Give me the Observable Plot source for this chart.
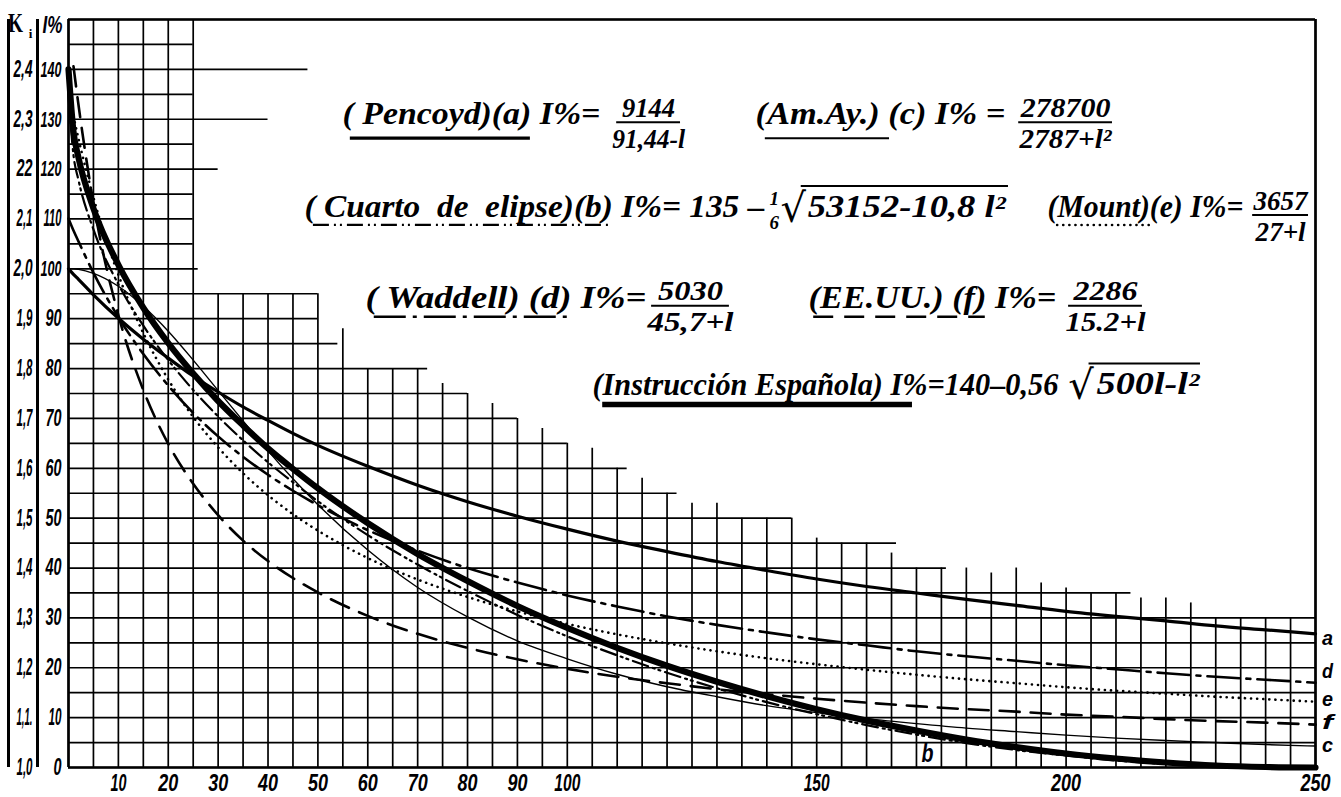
<!DOCTYPE html>
<html>
<head>
<meta charset="utf-8">
<script src="https://cdn.jsdelivr.net/npm/d3@7"></script>
<script src="https://cdn.jsdelivr.net/npm/@observablehq/plot@0.6"></script>
<style>
html, body { margin: 0; padding: 0; background: #fff; }
#chart { width: 1341px; height: 797px; overflow: hidden; }
</style>
</head>
<body>
<div id="chart"></div>
<script>
// ---------- data ----------
// span l (m)
const spans = [0,1,2,5,10,15,20,25,30,35,40,45,50,60,70,80,90,100,110,120,130,140,150,160,170,180,190,200,210,220,230,240,250];
// I % for each curve
const pencoyd     = [100.0,98.9,97.9,94.8,90.1,85.9,82.1,78.5,75.3,72.3,69.6,67.0,64.6,60.4,56.6,53.3,50.4,47.8,45.4,43.3,41.3,39.5,37.8,36.3,35.0,33.7,32.5,31.3,30.3,29.4,28.4,27.6,26.8];
const cuartoElipse= [135,122.8,117.8,107.9,96.9,88.6,81.7,75.7,70.4,65.6,61.2,57.2,53.4,46.6,40.7,35.4,30.6,26.3,22.5,19.0,15.9,13.1,10.7,8.5,6.6,4.9,3.5,2.4,1.4,0.7,0.3,0.0,null];
const amAy        = [100,100,99.9,99.1,96.5,92.5,87.5,81.7,75.6,69.5,63.5,57.9,52.7,43.6,36.1,30.2,25.4,21.8,18.7,16.2,14.2,12.4,11.0,9.8,8.8,7.9,7.2,6.5,5.9,5.4,5.0,4.6,4.3];
const waddell     = [110.1,107.7,105.5,99.2,90.3,82.9,76.6,71.1,66.4,62.3,58.7,55.5,52.6,47.6,43.5,40.0,37.1,34.5,32.3,30.3,28.6,27.1,25.7,24.5,23.3,22.3,21.4,20.5,19.7,18.9,18.2,17.6,17.0];
const mount       = [135.4,130.6,126.1,114.3,98.8,87.1,77.8,70.3,64.2,59.0,54.6,50.8,47.5,42.0,37.7,34.2,31.3,28.8,26.7,24.9,23.3,21.9,20.7,19.6,18.6,17.7,16.9,16.1,15.4,14.8,14.2,13.7,13.2];
const eeuu        = [null,140.6,132.9,113.2,90.7,75.7,64.9,56.9,50.6,45.5,41.4,38.0,35.1,30.4,26.8,24.0,21.7,19.8,18.2,16.9,15.7,14.7,13.8,13.0,12.3,11.7,11.2,10.6,10.2,9.7,9.3,9.0,8.6];
const instruccion = [140,127.5,122.3,112.1,100.8,92.2,85.1,79.0,73.5,68.6,64.0,59.9,56.0,49.0,42.8,37.4,32.4,28.0,24.0,20.4,17.2,14.3,11.7,9.4,7.4,5.6,4.1,2.8,1.8,1.0,0.4,0.1,0];

const curveKeys   = ["a","b","c","d","e","f","s"];
const curveValues = [pencoyd, cuartoElipse, amAy, waddell, mount, eeuu, instruccion];
// letters written at the right edge, and the I% level where each one stands
const endLabels   = ["a","d","e","f","c"];
const endLabelAt  = [26, 19.2, 13.6, 9.0, 4.4];

// tick labels
const xTicks  = [10,20,30,40,50,60,70,80,90,100,150,200,250];
const iTicks  = [0,10,20,30,40,50,60,70,80,90,100,110,120,130,140];
const kLabels = ["1,0","1,1.","1,2","1,3","1,4","1,5","1,6","1,7","1,8","1,9","2,0","2,1","22","2,3","2,4"];

// stepped squared-paper grid: vertical line at x reaches up to top; horizontal line at y reaches to right
const gridX     = [0,5,10,15,20,25,30,35,40,45,50,55,60,65,70,75,80,85,90,95,100,105,110,115,120,125,130,135,140,145,150,155,160,165,170,175,180,185,190,195,200,205,210,215,220,225,230,235,240,245,250];
const gridXTop  = [150,150,150,150,150,150,95,95,95,95,95,88,80,80,80,77,75,73,70,68,65,64,60,58,55,53,53,50,50,50,46,45,45,43,40,40,40,39,40,37,36,35,35,34,34,33,30,30,30,30,150];
const gridY     = [0,5,10,15,20,25,30,35,40,45,50,55,60,65,70,75,80,85,90,95,100,105,110,115,120,125,130,135,140,145,150];
const gridYEnd  = [250,250,250,250,250,250,250,213,176,166,145,122,112,100,90,80,72,54,50,50,26,25,25,25,30,25,40,25,48,25,250];

// ---------- tables built from the arrays ----------
const rows = [];
curveKeys.forEach((k, i) => spans.forEach((l, j) => rows.push({k, l, v: curveValues[i][j]})));
const vGrid = gridX.map((x, i) => ({x, top: gridXTop[i]}));
const hGrid = gridY.map((y, i) => ({y, right: gridYEnd[i]}));
const ends = endLabels.map((k, i) => ({k, v: endLabelAt[i]}));

// ---------- styles ----------
const lineStyle = {
  a: {strokeWidth: 3.2},
  b: {strokeWidth: 2.2, strokeDasharray: "16 5 2 4 2 5"},
  c: {strokeWidth: 1.4},
  d: {strokeWidth: 2.6, strokeDasharray: "32 7 4 7"},
  e: {strokeWidth: 2.6, strokeDasharray: "0.1 6", strokeLinecap: "round"},
  f: {strokeWidth: 2.6, strokeDasharray: "20 11"},
  s: {strokeWidth: 6.2}
};
const serifFont = "'Liberation Serif','DejaVu Serif',serif";
const sansFont  = "'Liberation Sans','DejaVu Sans',sans-serif";
const serif = {fontFamily: serifFont, fontStyle: "italic", fontWeight: "bold"};
const sans  = {fontFamily: sansFont, fontStyle: "italic", fontWeight: "bold"};
// near-black tags so the text groups can be found after rendering
const TAG = {phr: "#000001", x: "#000002", i: "#000003", k: "#000004", end: "#000005", num: "#000006", den: "#000007", root: "#000008", head: "#000009", ihead: "#00000a", kb: "#00000b"};

// ---------- formula annotations ----------
const rowY  = [131.0, 112.4, 94.2, 76.8];   // centre line of each text row
const lineY = [126.2, 108.8, 90.4, 72.8];   // underline of each text row
const phrases = [
  {t: "( Pencoyd)(a) I%=",                 x: 54.93,  r: 0, w: 258},
  {t: "(Am.Ay.) (c) I% =",                 x: 137.73, r: 0, w: 250},
  {t: "( Cuarto  de  elipse)(b) I%= 135 –", x: 47.31,  r: 1, w: 460},
  {t: "(Mount)(e) I%=",                    x: 196.27, r: 1, w: 196},
  {t: "( Waddell) (d) I%=",                x: 59.54,  r: 2, w: 281},
  {t: "(EE.UU.) (f) I%=",                  x: 148.36, r: 2, w: 248},
  {t: "(Instrucción Española) I%=140–0,56", x: 105.05, r: 3, w: 466}
];
const fractions = [
  {n: "9144",   d: "91,44-l", x: 116.3, h: 6.4, r: 0, wn: 53, wd: 73},
  {n: "278700", d: "2787+l²", x: 199.9, h: 9.4, r: 0, wn: 90, wd: 92},
  {n: "3657",   d: "27+l",    x: 243.0, h: 5.6, r: 1, wn: 54, wd: 50},
  {n: "5030",   d: "45,7+l",  x: 124.7, h: 7.8, r: 2, wn: 65, wd: 86},
  {n: "2286",   d: "15.2+l",  x: 207.9, h: 7.4, r: 2, wn: 64, wd: 80}
];
const stacked = [{n: "1", d: "6", x: 141.5, r: 1}];
const roots = [
  {t: "53152-10,8 l²", x: 148.2, g: 145.3, x1: 146.9, x2: 188.45, r: 1, w: 198},
  {t: "500l-l²",       x: 206.1, g: 203.0, x1: 204.6, x2: 226.94, r: 3, w: 103}
];
const underlines = [
  {x1: 56.5,  x2: 92.6,  r: 0, k: "a"},
  {x1: 139.7, x2: 164.6, r: 0, k: "c"},
  {x1: 49.1,  x2: 108.3, r: 1, k: "b"},
  {x1: 198.3, x2: 216.9, r: 1, k: "e"},
  {x1: 61.3,  x2: 100.6, r: 2, k: "d"},
  {x1: 149.4, x2: 183.8, r: 2, k: "f"},
  {x1: 107.1, x2: 169.2, r: 3, k: "s"}
];

const marks = [
  Plot.ruleX(vGrid, {x: "x", y1: 0, y2: "top", stroke: "#000", strokeWidth: 1.7}),
  Plot.ruleY(hGrid, {y: "y", x1: 0, x2: "right", stroke: "#000", strokeWidth: 1.7}),
  Plot.ruleX([0, 250], {y1: 0, y2: 150, stroke: "#000", strokeWidth: 2.6}),
  Plot.ruleY([0, 150], {x1: 0, x2: 250, stroke: "#000", strokeWidth: 2.6}),
  // separators of the two left scales
  Plot.ruleX([0], {y1: 0, y2: 150, dx: -60, stroke: "#000", strokeWidth: 3}),
  Plot.ruleX([0], {y1: 0, y2: 150, dx: -31, stroke: "#000", strokeWidth: 3}),
];
curveKeys.forEach(k => {
  marks.push(Plot.line(rows.filter(d => d.k === k), {x: "l", y: "v", curve: "monotone-x", stroke: "#000", ...lineStyle[k]}));
});
underlines.forEach(u => {
  const st = lineStyle[u.k];
  marks.push(Plot.ruleY([lineY[u.r]], {x1: u.x1, x2: u.x2, stroke: "#000", ...st, strokeWidth: u.k === "s" ? 5.5 : Math.max(st.strokeWidth, 2)}));
});
marks.push(
  Plot.text(phrases, {x: "x", y: d => rowY[d.r], text: "t", textAnchor: "start", fontSize: 32, fill: TAG.phr, ...serif}),
  Plot.text(fractions, {x: "x", y: d => rowY[d.r] + 1.2, text: "n", fontSize: 27, fill: TAG.num, ...serif}),
  Plot.text(fractions, {x: "x", y: d => rowY[d.r] - 5.0, text: "d", fontSize: 27, fill: TAG.den, ...serif}),
  Plot.ruleY(fractions, {y: d => rowY[d.r] - 1.6, x1: d => d.x - d.h, x2: d => d.x + d.h, stroke: "#000", strokeWidth: 2}),
  Plot.text(stacked, {x: "x", y: d => rowY[d.r] + 1.6, text: "n", fontSize: 19, ...serif}),
  Plot.text(stacked, {x: "x", y: d => rowY[d.r] - 3.2, text: "d", fontSize: 19, ...serif}),
  Plot.text(roots, {x: "g", y: d => rowY[d.r] - 0.4, text: () => "√", fontSize: 40, fontFamily: "'DejaVu Serif',serif"}),
  Plot.ruleY(roots, {y: d => rowY[d.r] + 4.2, x1: "x1", x2: "x2", stroke: "#000", strokeWidth: 2}),
  Plot.text(roots, {x: "x", y: d => rowY[d.r], text: "t", textAnchor: "start", fontSize: 31, fill: TAG.root, ...serif}),
  // curve letters at the right edge and the "b" letter
  Plot.text(ends, {x: 250, y: "v", text: "k", dx: 12, fontSize: 21, fill: TAG.end, ...sans}),
  Plot.text(["b"], {x: 172.2, y: 2.8, text: d => d, fontSize: 26, fill: TAG.kb, ...sans}),
  // x tick labels
  Plot.text(xTicks, {x: d => d, frameAnchor: "bottom", lineAnchor: "middle", textAnchor: "middle", dy: 16, text: d => String(d), fontSize: 23, fill: TAG.x, ...sans}),
  // left scales: I % and K_i
  Plot.text(iTicks, {y: d => d, frameAnchor: "left", dx: -7, textAnchor: "end", lineAnchor: "middle", text: d => String(d), fontSize: 23, fill: TAG.i, ...sans}),
  Plot.text(iTicks, {y: d => d, frameAnchor: "left", dx: -36, textAnchor: "end", lineAnchor: "middle", text: (d, i) => kLabels[i], fontSize: 23, fill: TAG.k, ...sans}),
  Plot.text(["K"], {frameAnchor: "top-left", dx: -53, dy: 4, textAnchor: "middle", lineAnchor: "middle", text: d => d, fontSize: 28, fill: TAG.head, fontFamily: serifFont, fontWeight: "bold"}),
  Plot.text(["i"], {frameAnchor: "top-left", dx: -38, dy: 14, textAnchor: "middle", lineAnchor: "middle", text: d => d, fontSize: 13, fontFamily: serifFont, fontWeight: "bold"}),
  Plot.text(["I%"], {frameAnchor: "top-left", dx: -16, dy: 6, textAnchor: "middle", lineAnchor: "middle", text: d => d, fontSize: 24, fill: TAG.ihead, ...sans})
);

const chart = Plot.plot({
  width: 1341, height: 797,
  marginLeft: 68, marginRight: 26, marginTop: 19, marginBottom: 30,
  x: {domain: [0, 250], axis: null},
  y: {domain: [0, 150], axis: null},
  style: {background: "#fff", color: "#000", overflow: "visible"},
  marks
});
document.getElementById("chart").appendChild(chart);

// give the hand-lettered texts their drawn widths (horizontal scale about each text's anchor)
function fit(tag, widthOf) {
  chart.querySelectorAll(`g[fill="${tag}"] text`).forEach((t, i) => {
    const natural = t.getComputedTextLength();
    if (!(natural > 0)) return;
    const s = widthOf(t.textContent, i) / natural;
    t.setAttribute("transform", `${t.getAttribute("transform") || ""} scale(${s.toFixed(4)},1)`.trim());
  });
}
const digitWidth = (wide, narrow, comma) => s => {
  let w = 0;
  for (const ch of s) w += ch === "1" ? narrow : (ch === "," || ch === ".") ? comma : wide;
  return w;
};
fit(TAG.phr,  (s, i) => phrases[i].w);
fit(TAG.num,  (s, i) => fractions[i].wn);
fit(TAG.den,  (s, i) => fractions[i].wd);
fit(TAG.root, (s, i) => roots[i].w);
fit(TAG.x, digitWidth(10, 6, 3));
fit(TAG.i, digitWidth(8, 5, 3));
fit(TAG.k, digitWidth(8, 5, 3));
fit(TAG.end, () => 11);
fit(TAG.kb, () => 12);
fit(TAG.head, () => 15);
fit(TAG.ihead, () => 20);
</script>
</body>
</html>
